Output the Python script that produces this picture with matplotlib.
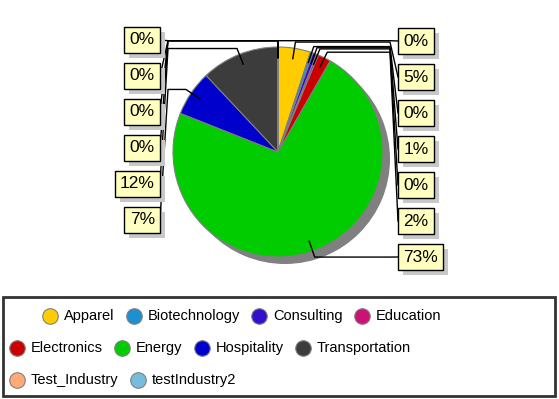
import math
import matplotlib
matplotlib.use("Agg")
import matplotlib.pyplot as plt
from matplotlib.patches import Rectangle

plt.rcParams['font.family'] = ['Liberation Sans', 'DejaVu Sans']

# legend categories and their colours
categories = ["Apparel", "Biotechnology", "Consulting", "Education",
              "Electronics", "Energy", "Hospitality", "Transportation",
              "Test_Industry", "testIndustry2"]
cat_colors = ["#FFCC00", "#1E8FD0", "#3311CC", "#CC1177",
              "#CC0000", "#00CC00", "#0000CC", "#3C3C3C",
              "#FFAA77", "#77BBDD"]

# data points of the pie, clockwise from 12 o'clock (percent)
point_cats = ["Test_Industry", "Apparel", "Biotechnology", "Consulting",
              "Education", "Electronics", "Energy", "Hospitality",
              "Transportation", "testIndustry2", "Test_Industry",
              "testIndustry2", "Test_Industry"]
point_vals = [0, 5.0, 0.4, 0.6, 0.3, 2.0, 72.7, 7.0, 12.0, 0, 0, 0, 0]

# legend rows (flow layout)
legend_rows = [[0, 1, 2, 3], [4, 5, 6, 7], [8, 9]]
row_start = [42, 9, 9]

W, H = 559, 399
fig = plt.figure(figsize=(W / 100, H / 100), dpi=100)
ax = fig.add_axes([0, 0, 1, 1])

cx, cy, R = 278, 152, 105
color_of = dict(zip(categories, cat_colors))
pcolors = [color_of[c] for c in point_cats]

# shadow
ax.pie([sum(point_vals)], colors=["#808080"], radius=R, center=(cx + 7, cy + 7),
       wedgeprops=dict(linewidth=0), frame=True)
wedges, _ = ax.pie(point_vals, colors=pcolors, radius=R, center=(cx, cy),
                   startangle=270, counterclock=True, frame=True,
                   wedgeprops=dict(edgecolor="#808080", linewidth=0.8))
ax.set_xlim(0, W)
ax.set_ylim(H, 0)
ax.set_aspect("equal")
ax.axis("off")

# labels with leader lines
total = sum(point_vals)
cum = 0
right, left = [], []
for v in point_vals:
    mid = (cum + v / 2) / total
    cum += v
    (right if mid < 0.5 else left).append((v, mid))

fs = 12.5
pad = 0.3
pad_px = pad * fs * 100 / 72
label_texts = []


def draw_label(v, mid, ly, side):
    th = math.radians(270 + mid * 360)
    ax_ = cx + 0.9 * R * math.cos(th)
    ay_ = cy + 0.9 * R * math.sin(th)
    ex = cx + 1.06 * R * math.cos(th)
    ey = cy + 1.06 * R * math.sin(th)
    if side == "r":
        xt, xb = 390, 398
        tx, ha = xb + pad_px, "left"
    else:
        xt, xb = 168, 160
        tx, ha = xb - pad_px, "right"
    ax.plot([ax_, ex, xt, xb], [ay_, ey, ey, ly], color="black", lw=1, zorder=3)
    t = ax.text(tx, ly, f"{round(v)}%", ha=ha, va="center", fontsize=fs, color="black",
                bbox=dict(boxstyle=f"square,pad={pad}", fc="#FFFFC0", ec="black", lw=1),
                zorder=5)
    label_texts.append(t)


for i, (v, mid) in enumerate(right):
    draw_label(v, mid, 41 + 36 * i, "r")
for i, (v, mid) in enumerate(left):
    draw_label(v, mid, 220 - 36 * i, "l")

fig.canvas.draw()
renderer = fig.canvas.get_renderer()
inv = ax.transData.inverted()

# box shadows
for t in label_texts:
    bb = t.get_bbox_patch().get_window_extent(renderer)
    (x0, y0), (x1, y1) = inv.transform([[bb.x0, bb.y0], [bb.x1, bb.y1]])
    xa, xb_ = min(x0, x1), max(x0, x1)
    ya, yb = min(y0, y1), max(y0, y1)
    ax.add_patch(Rectangle((xa + 5, ya + 5), xb_ - xa, yb - ya, fc="#C8C8C8",
                           ec="none", zorder=4))

# legend box
ax.add_patch(Rectangle((3, 297), 552, 99, fill=False, ec="#333333", lw=2, zorder=2))
for r, row in enumerate(legend_rows):
    y = 316 + 32 * r
    x = row_start[r]
    for k in row:
        ax.scatter([x + 8], [y], s=125, color=cat_colors[k], edgecolors="#808080",
                   linewidths=0.8, zorder=3)
        t = ax.text(x + 22, y, categories[k], ha="left", va="center", fontsize=10.5)
        w = t.get_window_extent(renderer).width
        x = x + 22 + w + 11

ax.set_xlim(0, W)
ax.set_ylim(H, 0)
fig.savefig("out.png", dpi=100)
